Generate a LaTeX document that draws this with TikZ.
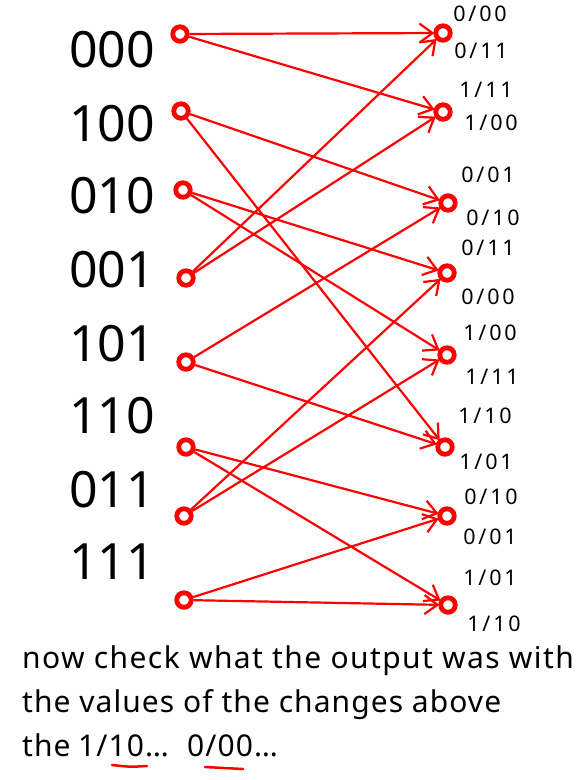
\documentclass[tikz,border=0pt]{standalone}
\usepackage{fontspec}
\setmainfont{Noto Sans}
\newfontfamily\lblfont[LetterSpace=13]{Noto Sans}
\newfontfamily\botfont[LetterSpace=3.5]{Noto Sans}
\newfontfamily\botfontw[LetterSpace=4.7]{Noto Sans}
\usetikzlibrary{arrows.meta}
\begin{document}
\begin{tikzpicture}[x=1pt,y=-1pt,
  dot/.style={circle,draw=red,line width=4.8pt,minimum size=14.5pt,inner sep=0pt},
  edge/.style={draw=red,line width=2.2pt,-{Straight Barb[length=13pt,width=19pt,line width=2.2pt]},shorten >=-1pt},
  bigtxt/.style={font=\fontsize{50}{50}\selectfont,inner sep=0pt},
  smalltxt/.style={font=\lblfont\fontsize{21.5}{21.5}\selectfont,inner sep=0pt},
  bottxt/.style={font=\botfont\fontsize{30}{30}\selectfont,inner sep=0pt,anchor=base west},
  uline/.style={red,line width=2.5pt,line cap=round}]
\useasboundingbox (0,0) rectangle (577,780);
% left dots
\node[dot] (l0) at (180,34) {};
\node[dot] (l1) at (181,111) {};
\node[dot] (l2) at (183,190) {};
\node[dot] (l3) at (186,278) {};
\node[dot] (l4) at (186,362) {};
\node[dot] (l5) at (186,447) {};
\node[dot] (l6) at (184,516) {};
\node[dot] (l7) at (184,600) {};
% right dots
\node[dot] (r0) at (443,33) {};
\node[dot] (r1) at (443,112) {};
\node[dot] (r2) at (448,203) {};
\node[dot] (r3) at (447,273) {};
\node[dot] (r4) at (447,355) {};
\node[dot] (r5) at (445,447) {};
\node[dot] (r6) at (447,516) {};
\node[dot] (r7) at (448,605) {};
% edges
\draw[edge] (l0) -- (r0);
\draw[edge] (l0) -- (r1);
\draw[edge] (l1) -- (r2);
\draw[edge] (l1) -- (r5);
\draw[edge] (l2) -- (r3);
\draw[edge] (l2) -- (r4);
\draw[edge] (l3) -- (r0);
\draw[edge] (l3) -- (r1);
\draw[edge] (l4) -- (r2);
\draw[edge] (l4) -- (r5);
\draw[edge] (l5) -- (r6);
\draw[edge] (l5) -- (r7);
\draw[edge] (l6) -- (r3);
\draw[edge] (l6) -- (r4);
\draw[edge] (l7) -- (r6);
\draw[edge] (l7) -- (r7);
% left labels
\node[bigtxt] (t0) at (112,50) {000};
\node[bigtxt] (t1) at (112,124) {100};
\node[bigtxt] (t2) at (112,196) {010};
\node[bigtxt] (t3) at (112,270) {001};
\node[bigtxt] (t4) at (112,344) {101};
\node[bigtxt] (t5) at (112,416) {110};
\node[bigtxt] (t6) at (112,490) {011};
\node[bigtxt] (t7) at (112,562) {111};
% right labels
\node[smalltxt] (s0) at (480,14) {0/00};
\node[smalltxt] (s1) at (481,51) {0/11};
\node[smalltxt] (s2) at (486,90) {1/11};
\node[smalltxt] (s3) at (491,123) {1/00};
\node[smalltxt] (s4) at (488,175) {0/01};
\node[smalltxt] (s5) at (493,218) {0/10};
\node[smalltxt] (s6) at (488,248) {0/11};
\node[smalltxt] (s7) at (488,297) {0/00};
\node[smalltxt] (s8) at (490,333) {1/00};
\node[smalltxt] (s9) at (492,377) {1/11};
\node[smalltxt] (s10) at (485,416) {1/10};
\node[smalltxt] (s11) at (486,462) {1/01};
\node[smalltxt] (s12) at (491,497) {0/10};
\node[smalltxt] (s13) at (490,537) {0/01};
\node[smalltxt] (s14) at (490,578) {1/01};
\node[smalltxt] (s15) at (494,624) {1/10};
% bottom text
\node[bottxt,font=\botfontw\fontsize{30}{30}\selectfont] (b1) at (22,668) {now check what the output was with};
\node[bottxt] (b2) at (22,712) {the values of the changes above};
\node[bottxt] (b3a) at (22,756) {the};
\node[bottxt] (b3b) at (78,756) {1/10…};
\node[bottxt] (b3c) at (187,756) {0/00…};
\draw[uline] (112,765) .. controls (130,767) .. (147,766);
\draw[uline] (205,767) .. controls (224,768) .. (243,769);
\end{tikzpicture}
\end{document}
